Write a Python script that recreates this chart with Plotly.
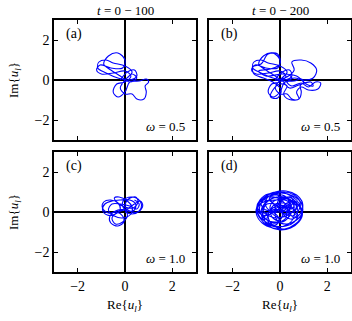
import plotly.graph_objects as go

# ---------------- data ----------------
# panel (a): t = 0-100, omega = 0.5
re_a = [0.1, 0.3, 0.5, 0.2, -0.2, -0.6, -0.9, -0.7, -0.3, 0.0, -0.1, -0.6, -1.05, -1.2, -1.0, -0.5, 0.0, 0.25, 0.0,
        -0.35, -0.5, -0.3, 0.0, 0.2, 0.6, 0.9, 1.0, 0.85, 0.9, 0.8, 0.5, 0.3, 0.0, -0.2, 0.0, 0.3, 0.0, -0.5, -0.8,
        -1.1, -1.15, -0.8, -0.3, 0.2, 0.5, 0.4, 0.1, -0.2]
im_a = [0.1, 0.3, 0.1, -0.1, 0.2, 0.5, 0.8, 1.2, 1.35, 1.0, 0.6, 0.6, 0.75, 0.5, 0.3, 0.35, 0.45, 0.2, -0.1,
        -0.2, -0.6, -0.85, -0.6, -0.1, -0.05, 0.05, -0.1, -0.3, -0.6, -0.95, -0.95, -0.7, -0.7, -0.4, 0.0, 0.4, 0.7, 0.85, 1.0,
        0.9, 0.6, 0.35, 0.1, 0.0, 0.2, 0.5, 0.4, 0.0]

# panel (b): t = 0-200 continues the trajectory of (a)
re_b_more = [0.2, 0.6, 0.5, 0.9, 1.3, 1.55, 1.4, 1.0, 0.6, 0.3, 0.5, 0.9, 1.2, 1.5, 1.72, 1.6, 1.2, 0.9, 0.7, 0.8,
             0.4, 0.15, 0.3, 0.0, -0.3, -0.4, -0.1, 0.05, -0.3, -0.7, -1.1, -1.15, -0.8, -0.5, -0.1, 0.0, -0.4, -0.9,
             -0.6, 0.1, 0.7, 1.1, 1.4, 1.3, 0.8, 0.4, 0.1]
im_b_more = [0.1, 0.5, 0.9, 1.0, 0.85, 0.5, 0.1, 0.0, 0.1, -0.1, -0.3, -0.15, -0.35, -0.1, -0.15, -0.45, -0.5, -0.35, -0.6, -0.95,
             -0.98, -0.7, -0.3, -0.2, -0.5, -0.85, -0.9, -0.5, -0.1, 0.1, 0.3, 0.65, 0.8, 1.3, 1.3, 0.8, 0.55, 0.45,
             0.2, 0.3, 0.2, -0.2, -0.3, -0.1, -0.25, -0.4, 0.0]

# panel (c): t = 0-100, omega = 1.0
re_c = [0.0, 0.3, 0.6, 0.7, 0.55, 0.25, -0.05, -0.1, 0.1, 0.4, 0.45, 0.2, -0.2, -0.55, -0.85, -0.95, -0.75, -0.4, -0.2, -0.3,
        -0.6, -0.9, -0.95, -0.7, -0.35, -0.1, -0.05, -0.3, -0.6, -0.65, -0.4, 0.0, 0.1, -0.1, -0.4, -0.55, -0.3, 0.1, 0.4, 0.65,
        0.75, 0.55, 0.2, 0.0, 0.15, 0.45, 0.55, 0.35, 0.0, -0.3, -0.45, -0.25, 0.1, 0.3, 0.25, -0.1, -0.45, -0.7, -0.55, -0.2,
        0.2, 0.5, 0.6, 0.4]
im_c = [0.0, -0.1, 0.05, 0.35, 0.65, 0.75, 0.6, 0.3, 0.05, 0.1, 0.4, 0.6, 0.6, 0.55, 0.4, 0.1, -0.15, -0.1, 0.15, 0.45,
        0.6, 0.5, 0.2, -0.05, 0.0, -0.2, -0.5, -0.7, -0.55, -0.25, 0.05, 0.1, -0.2, -0.5, -0.6, -0.3, 0.0, 0.15, 0.4, 0.55,
        0.3, 0.0, 0.05, 0.3, 0.65, 0.75, 0.5, 0.2, 0.25, 0.45, 0.7, 0.75, 0.55, 0.25, -0.1, -0.3, -0.2, 0.1, 0.4, 0.4,
        0.3, 0.15, 0.4, 0.6]

# panel (d): t = 0-200 continues the trajectory of (c)
re_d_more = [0.5, 0.8, 0.85, 0.6, 0.15, -0.3, -0.6, -0.55, -0.2, 0.2, 0.4, 0.2, -0.25, -0.7, -0.95, -0.9, -0.6,
             -0.2, 0.25, 0.6, 0.75, 0.5, 0.1, -0.2, -0.1, 0.3, 0.7, 0.95, 0.9, 0.55, 0.05, -0.45, -0.8, -0.85,
             -0.55, -0.1, 0.3, 0.4, 0.1, -0.3, -0.5, -0.35, 0.1, 0.55, 0.85, 0.9, 0.7, 0.3, -0.2, -0.65, -0.95,
             -1.0, -0.75, -0.3, 0.2, 0.65, 0.9, 0.8, 0.45, 0.0, -0.35, -0.4, -0.1, 0.35, 0.6, 0.45, 0.0, -0.5,
             -0.75, -0.6, -0.15, 0.25, 0.3,
             0.6, 0.9, 0.95, 0.7, 0.25, -0.2, -0.6, -0.8, -0.6, -0.2, 0.0, -0.1, -0.5, -0.85, -1.0, -0.85, -0.5, 0.0,
             0.45, 0.8, 0.95, 0.8, 0.4, 0.1, 0.2, 0.55, 0.75, 0.6, 0.2, -0.3, -0.7, -0.8, -0.55, -0.1, 0.35, 0.6, 0.5,
             0.15, -0.25, -0.4, -0.25, 0.15, 0.45]
im_d_more = [-0.2, 0.1, 0.5, 0.85, 1.0, 0.9, 0.6, 0.2, 0.0, 0.1, 0.45, 0.8, 0.85, 0.65, 0.3, -0.15, -0.5,
             -0.7, -0.7, -0.5, -0.15, 0.2, 0.25, -0.05, -0.45, -0.6, -0.4, 0.0, 0.45, 0.8, 0.95, 0.8, 0.45, 0.0,
             -0.4, -0.55, -0.35, 0.05, 0.3, 0.2, -0.15, -0.6, -0.85, -0.7, -0.35, 0.15, 0.6, 0.9, 1.0, 0.75, 0.35,
             -0.1, -0.55, -0.8, -0.85, -0.6, -0.2, 0.3, 0.6, 0.65, 0.45, 0.05, -0.25, -0.15, 0.2, 0.55, 0.75, 0.55,
             0.1, -0.35, -0.5, -0.3, 0.1,
             -0.3, 0.0, 0.45, 0.85, 1.05, 1.0, 0.75, 0.4, 0.1, 0.15, 0.5, 0.85, 0.9, 0.6, 0.15, -0.3, -0.7, -0.9,
             -0.8, -0.5, -0.1, 0.35, 0.5, 0.2, -0.2, -0.35, 0.0, 0.45, 0.75, 0.7, 0.35, -0.1, -0.55, -0.75, -0.6, -0.2, 0.25,
             0.45, 0.35, 0.0, -0.35, -0.45, -0.15]

panel_letters = ["(a)", "(b)", "(c)", "(d)"]
omega_labels = ["0.5", "0.5", "1.0", "1.0"]
col_titles = ["0 − 100", "0 − 200"]
tick_vals = [-2, 0, 2]
tick_text = ["−2", "0", "2"]

series = [
    (re_a, im_a),
    (re_a + re_b_more, im_a + im_b_more),
    (re_c, im_c),
    (re_c + re_d_more, im_c + im_d_more),
]

# ---------------- figure ----------------
W, H = 352, 321
xdoms = [[54 / W, 196 / W], [209 / W, 351 / W]]
ydoms = [[1 - 140 / H, 1 - 20 / H], [1 - 272 / H, 1 - 152 / H]]
FONT = "Liberation Serif"

fig = go.Figure()
layout = dict(
    width=W, height=H, margin=dict(l=0, r=0, t=0, b=0),
    paper_bgcolor="white", plot_bgcolor="white", showlegend=False,
    font=dict(family=FONT, size=13, color="black"),
)
annotations = []
for k in range(4):
    r, c = divmod(k, 2)
    n = "" if k == 0 else str(k + 1)
    re_v, im_v = series[k]
    fig.add_trace(go.Scatter(x=re_v, y=im_v, mode="lines", line=dict(color="#0000ff", width=1.1, shape="spline", smoothing=1.0),
                             xaxis="x" + n, yaxis="y" + n, hoverinfo="skip"))
    common = dict(range=[-3, 3], tickvals=tick_vals, ticktext=tick_text, ticks="inside", ticklen=4,
                  tickwidth=1, tickcolor="black", showline=True, linecolor="black", linewidth=1.5,
                  mirror="allticks", showgrid=False, zeroline=True, zerolinecolor="black", zerolinewidth=1.5,
                  tickfont=dict(family=FONT, size=14))
    layout["xaxis" + n] = dict(common, domain=xdoms[c], anchor="y" + n, showticklabels=(r == 1))
    layout["yaxis" + n] = dict(common, domain=ydoms[r], anchor="x" + n, showticklabels=(c == 0))
    xr = xdoms[c]
    yr = ydoms[r]
    annotations.append(dict(text=panel_letters[k], xref="paper", yref="paper", x=xr[0] + 10 / W, y=yr[1] - 4 / H,
                            xanchor="left", yanchor="top", showarrow=False, font=dict(size=14)))
    annotations.append(dict(text="<i>ω</i> = " + omega_labels[k], xref="paper", yref="paper",
                            x=xr[1] - 9 / W, y=yr[0] + 4 / H, xanchor="right", yanchor="bottom",
                            showarrow=False, font=dict(size=13)))

for c in range(2):
    xc = (xdoms[c][0] + xdoms[c][1]) / 2
    annotations.append(dict(text="<i>t</i> = " + col_titles[c], xref="paper", yref="paper", x=xc, y=1 - 10 / H,
                            xanchor="center", yanchor="middle", showarrow=False, font=dict(size=13)))
    annotations.append(dict(text="Re{<i>u<sub>l</sub></i>}", xref="paper", yref="paper", x=xc, y=1 - 305 / H,
                            xanchor="center", yanchor="middle", showarrow=False, font=dict(size=13)))
for r in range(2):
    yc = (ydoms[r][0] + ydoms[r][1]) / 2
    annotations.append(dict(text="Im{<i>u<sub>l</sub></i>}", xref="paper", yref="paper", x=14 / W, y=yc,
                            xanchor="center", yanchor="middle", textangle=-90, showarrow=False, font=dict(size=13)))
layout["annotations"] = annotations
fig.update_layout(**layout)
fig.write_html("out.html", config={"displayModeBar": False},
               post_script="document.body.style.margin='0';document.body.style.overflow='hidden';")
